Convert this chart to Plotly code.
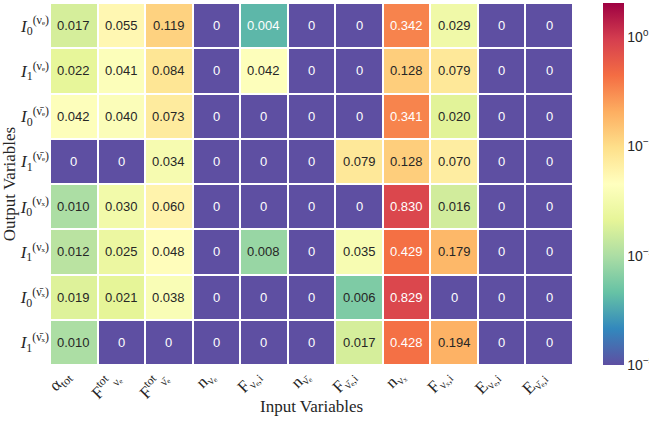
import numpy as np
import plotly.graph_objects as go
from plotly.colors import sample_colorscale, unlabel_rgb

x_labels = [
    "α<sub>tot</sub>",
    "F<sup>tot</sup><sub>νₑ</sub>",
    "F<sup>tot</sup><sub>ν̄ₑ</sub>",
    "n<sub>νₑ</sub>",
    "F<sub>νₑ,i</sub>",
    "n<sub>ν̄ₑ</sub>",
    "F<sub>ν̄ₑ,i</sub>",
    "n<sub>νₓ</sub>",
    "F<sub>νₓ,i</sub>",
    "E<sub>νₑ,i</sub>",
    "E<sub>ν̄ₑ,i</sub>",
]
y_labels = [
    "<i>I</i><sub>0</sub><sup>(νₑ)</sup>",
    "<i>I</i><sub>1</sub><sup>(νₑ)</sup>",
    "<i>I</i><sub>0</sub><sup>(ν̄ₑ)</sup>",
    "<i>I</i><sub>1</sub><sup>(ν̄ₑ)</sup>",
    "<i>I</i><sub>0</sub><sup>(νₓ)</sup>",
    "<i>I</i><sub>1</sub><sup>(νₓ)</sup>",
    "<i>I</i><sub>0</sub><sup>(ν̄ₓ)</sup>",
    "<i>I</i><sub>1</sub><sup>(ν̄ₓ)</sup>",
]

row_I0_nue = [0.017, 0.055, 0.119, 0, 0.004, 0, 0, 0.342, 0.029, 0, 0]
row_I1_nue = [0.022, 0.041, 0.084, 0, 0.042, 0, 0, 0.128, 0.079, 0, 0]
row_I0_nuebar = [0.042, 0.040, 0.073, 0, 0, 0, 0, 0.341, 0.020, 0, 0]
row_I1_nuebar = [0, 0, 0.034, 0, 0, 0, 0.079, 0.128, 0.070, 0, 0]
row_I0_nux = [0.010, 0.030, 0.060, 0, 0, 0, 0, 0.830, 0.016, 0, 0]
row_I1_nux = [0.012, 0.025, 0.048, 0, 0.008, 0, 0.035, 0.429, 0.179, 0, 0]
row_I0_nuxbar = [0.019, 0.021, 0.038, 0, 0, 0, 0.006, 0.829, 0, 0, 0]
row_I1_nuxbar = [0.010, 0, 0, 0, 0, 0, 0.017, 0.428, 0.194, 0, 0]

values = np.array([row_I0_nue, row_I1_nue, row_I0_nuebar, row_I1_nuebar,
                   row_I0_nux, row_I1_nux, row_I0_nuxbar, row_I1_nuxbar], dtype=float)

cbar_tickvals = [-3, -2, -1, 0]
cbar_ticktext = ["10<sup>−3</sup>", "10<sup>−2</sup>", "10<sup>−1</sup>", "10<sup>0</sup>"]

ZMIN, ZMAX = -3.0, 0.31
z = np.log10(np.clip(values, 1e-3, None))

scale = "Spectral_r"
INK = "#262626"

fig = go.Figure(go.Heatmap(
    z=z, x=x_labels, y=y_labels,
    colorscale=scale, zmin=ZMIN, zmax=ZMAX,
    xgap=2, ygap=2, hoverinfo="skip",
    colorbar=dict(
        thickness=21, len=1.0, lenmode="fraction", y=0.5, yanchor="middle",
        x=1.058, xanchor="left", xpad=0, ypad=0, outlinewidth=0,
        tickvals=cbar_tickvals, ticktext=cbar_ticktext,
        ticks="", ticklen=0,
        tickfont=dict(family="Liberation Sans", size=14, color=INK),
    ),
))

def rel_lum(rgb):
    c = np.array(rgb, dtype=float) / 255.0
    c = np.where(c <= 0.03928, c / 12.92, ((c + 0.055) / 1.055) ** 2.4)
    return 0.2126 * c[0] + 0.7152 * c[1] + 0.0722 * c[2]

annotations = []
for i, yl in enumerate(y_labels):
    for j, xl in enumerate(x_labels):
        v = values[i, j]
        frac = (z[i, j] - ZMIN) / (ZMAX - ZMIN)
        col = sample_colorscale(scale, [min(max(frac, 0), 1)])[0]
        lum = rel_lum(unlabel_rgb(col))
        tcol = INK if lum > 0.408 else "white"
        txt = "0" if v == 0 else f"{v:.3f}"
        annotations.append(dict(x=xl, y=yl, text=txt, showarrow=False,
                                font=dict(family="Liberation Sans", size=13, color=tcol)))

# rotated x tick labels
for xl in x_labels:
    annotations.append(dict(x=xl, xref="x", y=0.0, yref="paper", text=xl, showarrow=False,
                            textangle=-45, xanchor="right", yanchor="top", xshift=6, yshift=2,
                            font=dict(family="Liberation Serif", size=17, color=INK)))

# x axis title
annotations.append(dict(x=0.5, xref="paper", y=-0.116, yref="paper", text="Input Variables",
                        showarrow=False, xanchor="center", yanchor="middle",
                        font=dict(family="Liberation Serif", size=17, color=INK)))

fig.update_layout(
    width=649, height=422,
    margin=dict(l=50, r=76, t=3, b=57, autoexpand=False),
    plot_bgcolor="white", paper_bgcolor="white",
    annotations=annotations,
    xaxis=dict(showticklabels=False, automargin=False, autorange=False,
               range=[-0.5, len(x_labels) - 0.5],
               showgrid=False, zeroline=False, ticks=""),
    yaxis=dict(autorange=False, range=[len(y_labels) - 0.5, -0.5], automargin=False,
               tickfont=dict(family="Liberation Serif", size=17, color=INK),
               showgrid=False, zeroline=False, ticks="",
               title=dict(text="Output Variables", font=dict(family="Liberation Serif", size=17, color=INK),
                          standoff=4)),
)

fig.write_html("out.html")
